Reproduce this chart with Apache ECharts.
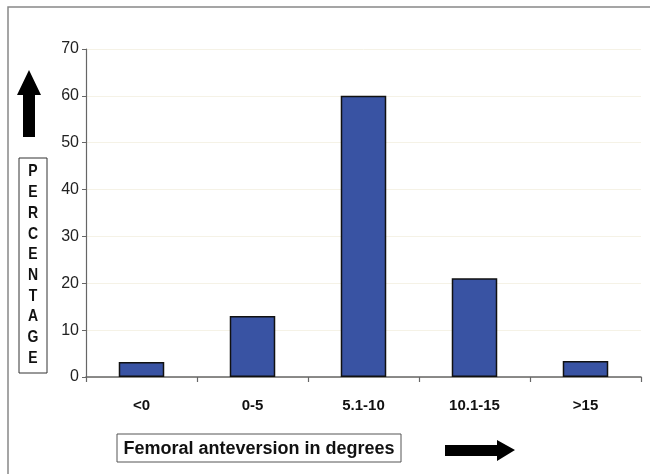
<!DOCTYPE html>
<html>
<head>
<meta charset="utf-8">
<script src="https://cdn.jsdelivr.net/npm/echarts@6/dist/echarts.min.js"></script>
<style>html,body{margin:0;padding:0;background:#fff;}#c{width:650px;height:474px;}</style>
</head>
<body>
<div id="c"></div>
<script>
var categories = ['<0', '0-5', '5.1-10', '10.1-15', '>15'];
var percentages = [3.2, 13, 60, 21.1, 3.4];
var yTicks = [0, 10, 20, 30, 40, 50, 60, 70];
var yAxisTitle = 'PERCENTAGE';
var xAxisTitle = 'Femoral anteversion in degrees';

var chart = echarts.init(document.getElementById('c'), null, {renderer: 'canvas'});
var FONT = '"Liberation Sans", Arial, sans-serif';

var percentLetters = yAxisTitle.split('').map(function (ch, i) {
  return {
    type: 'text',
    x: 33, y: 172 + i * 20.7,
    scaleY: 1.15,
    style: {text: ch, x: 0, y: 0, font: 'bold 14px ' + FONT, fill: '#111', align: 'center', verticalAlign: 'middle'},
    z: 10
  };
});

chart.setOption({
  animation: false,
  backgroundColor: '#ffffff',
  grid: {left: 86, right: 9, top: 49, bottom: 97, containLabel: false},
  xAxis: {
    type: 'category',
    data: categories,
    axisLine: {lineStyle: {color: '#666', width: 1.5}},
    axisTick: {show: true, length: 5, lineStyle: {color: '#666', width: 1.2}},
    axisLabel: {margin: 21, fontFamily: FONT, fontSize: 15, fontWeight: 'bold', color: '#111'},
    splitLine: {show: false}
  },
  yAxis: {
    type: 'value',
    min: yTicks[0], max: yTicks[yTicks.length - 1], interval: 10,
    axisLine: {show: true, lineStyle: {color: '#666', width: 1.2}},
    axisTick: {show: true, length: 4, lineStyle: {color: '#666'}},
    axisLabel: {margin: 7, fontFamily: FONT, fontSize: 16, color: '#222'},
    splitLine: {show: true, lineStyle: {color: '#f5f2e6', width: 1}}
  },
  series: [{
    type: 'bar',
    data: percentages,
    barWidth: '41%',
    itemStyle: {color: '#3953a3', borderColor: '#111', borderWidth: 1.5}
  }],
  graphic: [
    {type: 'polyline', shape: {points: [[8, 474], [8, 7], [650, 7]]}, style: {stroke: '#888', lineWidth: 1.5, fill: null}},
    {type: 'polygon', shape: {points: [[29, 70], [41, 95], [35, 95], [35, 137], [23, 137], [23, 95], [17, 95]]}, style: {fill: '#000'}},
    {type: 'rect', shape: {x: 19, y: 158, width: 28, height: 215}, style: {fill: '#fff', stroke: '#333', lineWidth: 1}},
    {type: 'group', children: percentLetters},
    {type: 'rect', shape: {x: 117, y: 434, width: 284, height: 28}, style: {fill: '#fff', stroke: '#555', lineWidth: 1}},
    {type: 'text', style: {text: xAxisTitle, x: 259, y: 449, font: 'bold 18px ' + FONT, fill: '#111', align: 'center', verticalAlign: 'middle'}},
    {type: 'polygon', shape: {points: [[445, 445], [497, 445], [497, 440], [515, 450], [497, 461], [497, 456], [445, 456]]}, style: {fill: '#000'}}
  ]
});
</script>
</body>
</html>
